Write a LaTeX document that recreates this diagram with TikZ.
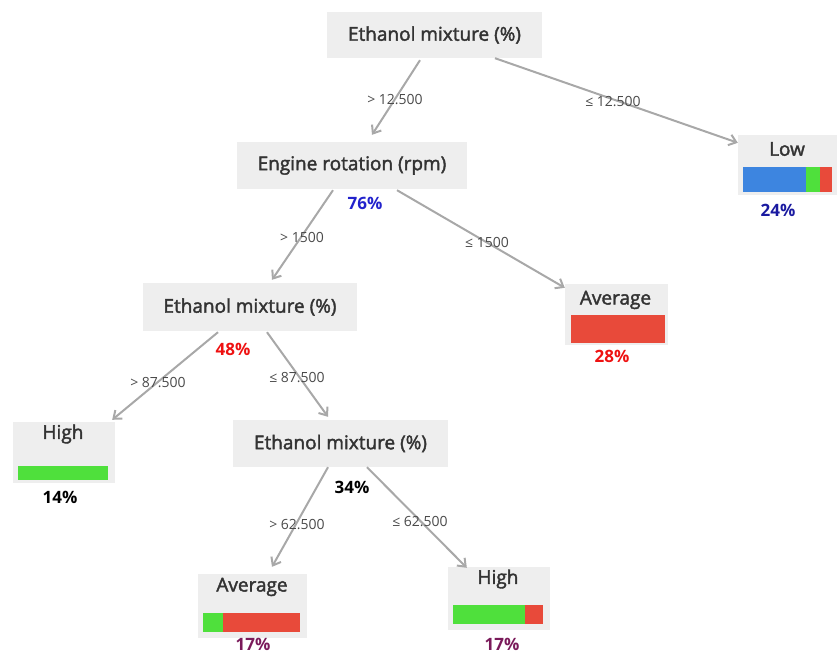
\documentclass[tikz,border=0pt]{standalone}
\usepackage{fontspec}
\setmainfont{Open Sans}
\newfontfamily\titlefont{Open Sans}[FakeBold=2]
\usetikzlibrary{arrows.meta,calc}
\definecolor{boxgray}{HTML}{EEEEEE}
\definecolor{edgegray}{HTML}{A8A8A8}
\definecolor{txtgray}{HTML}{333333}
\definecolor{lblgray}{HTML}{4A4A4A}
\definecolor{barblue}{HTML}{3D85E0}
\definecolor{bargreen}{HTML}{4FE03C}
\definecolor{barred}{HTML}{E84A3A}
\definecolor{pctblue}{HTML}{2222CC}
\definecolor{pctdblue}{HTML}{1A1AA0}
\definecolor{pctred}{HTML}{EE1111}
\definecolor{pctpurple}{HTML}{7A1A5A}
\tikzset{
  box/.style={fill=boxgray, draw=none, inner sep=0pt, minimum width=#1},
  title/.style={text=txtgray, font=\titlefont\fontsize{19}{22}\selectfont, inner sep=0pt},
  lbl/.style={text=lblgray, font=\fontsize{14}{16}\selectfont, inner sep=0pt},
  pct/.style={font=\bfseries\fontsize{17}{20}\selectfont, inner sep=0pt},
  edge/.style={draw=edgegray, line width=2pt, -{Straight Barb[length=7pt,width=11pt,line width=2pt]}}
}
\begin{document}
\begin{tikzpicture}[x=1pt,y=-1pt]
\useasboundingbox (0,0) rectangle (838,655);
% internal nodes
\node[box=215pt, minimum height=46pt] (root) at (434.5,35) {};
\node[title] (roott) at (434.5,35) {Ethanol mixture (\%)};
\node[box=230pt, minimum height=47pt] (engine) at (352,165.5) {};
\node[title] (enginet) at (352,165.5) {Engine rotation (rpm)};
\node[box=214pt, minimum height=48pt] (eth2) at (250,307) {};
\node[title] (eth2t) at (250,307) {Ethanol mixture (\%)};
\node[box=215pt, minimum height=47pt] (eth3) at (340.5,443.5) {};
\node[title] (eth3t) at (340.5,443.5) {Ethanol mixture (\%)};
% leaf nodes
\node[box=99pt, minimum height=60pt] (low) at (787.5,165) {};
\node[title] (lowt) at (787,149) {Low};
\fill[barblue] (743,167) rectangle (806,192);
\fill[bargreen] (806,167) rectangle (820,192);
\fill[barred] (820,167) rectangle (832,192);
\node[box=103pt, minimum height=61pt] (avg1) at (616.5,314.5) {};
\node[title] (avg1t) at (615.5,300) {Average};
\fill[barred] (571,315) rectangle (665,343);
\node[box=102pt, minimum height=61pt] (high1) at (64,452.5) {};
\node[title] (high1t) at (63,434) {High};
\fill[bargreen] (18,466) rectangle (108,480);
\node[box=109pt, minimum height=64pt] (avg2) at (252.5,606) {};
\node[title] (avg2t) at (252,587) {Average};
\fill[bargreen] (203,613) rectangle (223,632);
\fill[barred] (223,613) rectangle (300,632);
\node[box=102pt, minimum height=63pt] (high2) at (499,598.5) {};
\node[title] (high2t) at (498,579) {High};
\fill[bargreen] (453,605) rectangle (525,624);
\fill[barred] (525,605) rectangle (543,624);
% percentages
\node[pct, text=pctblue] (p76) at (365,203) {76\%};
\node[pct, text=pctdblue] (p24) at (778,210) {24\%};
\node[pct, text=pctred] (p28) at (612,356) {28\%};
\node[pct, text=pctred] (p48) at (233,349) {48\%};
\node[pct, text=black] (p14) at (60,497) {14\%};
\node[pct, text=black] (p34) at (352,487) {34\%};
\node[pct, text=pctpurple] (p17a) at (253,644) {17\%};
\node[pct, text=pctpurple] (p17b) at (502,644) {17\%};
% edges
\draw[edge] ($(root.south)+(-14.5,2)$) -- ($(engine.north)+(20,-7)$);
\draw[edge] ($(root.south)+(60.5,0)$) -- ($(low.north west)+(0,8)$);
\draw[edge] ($(engine.south)+(-19,1)$) -- ($(eth2.north)+(22,-3)$);
\draw[edge] ($(engine.south)+(45,1)$) -- ($(avg1.north west)+(0,4)$);
\draw[edge] ($(eth2.south)+(-32,1)$) -- ($(high1.north east)+(-3,-2)$);
\draw[edge] ($(eth2.south)+(17,1)$) -- ($(eth3.north)+(-12.5,-3)$);
\draw[edge] ($(eth3.south)+(-12.5,0)$) -- ($(avg2.north)+(19.5,-7)$);
\draw[edge] ($(eth3.south)+(26.5,0)$) -- ($(high2.north west)+(19,1)$);
% edge labels
\node[lbl] (l1) at (395,100) {> 12.500};
\node[lbl] (l2) at (613,102) {≤ 12.500};
\node[lbl] (l3) at (302,237) {> 1500};
\node[lbl] (l4) at (487,242) {≤ 1500};
\node[lbl] (l5) at (158,383) {> 87.500};
\node[lbl] (l6) at (297,378) {≤ 87.500};
\node[lbl] (l7) at (297,525) {> 62.500};
\node[lbl] (l8) at (420,522) {≤ 62.500};
\end{tikzpicture}
\end{document}
